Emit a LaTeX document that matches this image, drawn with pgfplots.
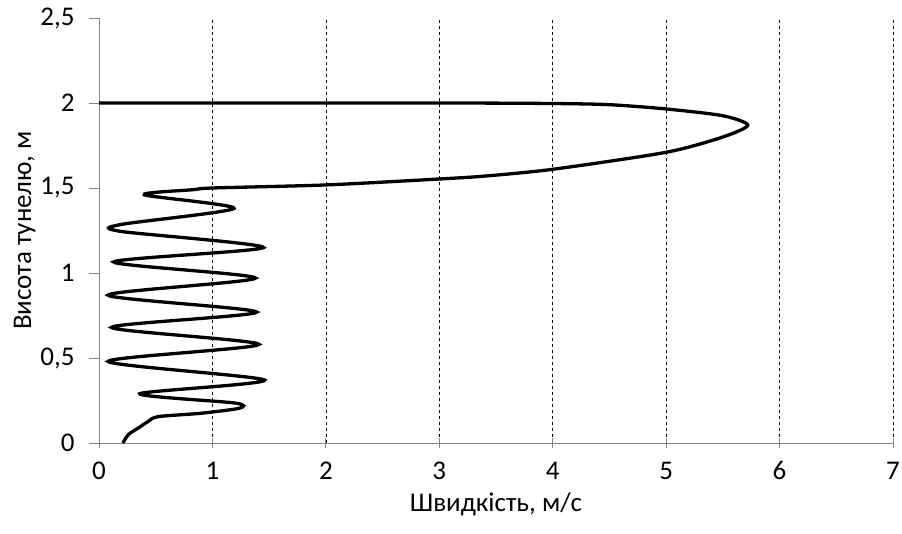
\documentclass[border=0pt]{standalone}
\usepackage{pgfplots}
\pgfplotsset{compat=1.18}
\usepackage{fontspec}
\setmainfont{Carlito}
\definecolor{axgray}{HTML}{868686}
\begin{document}
\begin{tikzpicture}
\begin{axis}[
  scale only axis,
  width=794pt, height=425pt,
  at={(0,0)}, anchor=south west,
  xmin=0, xmax=7, ymin=0, ymax=2.5,
  xtick={0,1,...,7},
  xticklabels={{0},{1},{2},{3},{4},{5},{6},{7}},
  ytick={0,0.5,1,1.5,2,2.5},
  yticklabels={{0},{0,5},{1},{1,5},{2},{2,5}},
  axis x line*=bottom, axis y line*=left,
  axis line style={axgray, line width=0.8pt, -},
  x axis line style={-}, y axis line style={-},
  xmajorgrids, grid style={black, dashed, line width=0.6pt},
  x tick style={axgray, line width=0.8pt},
  y tick style={axgray, line width=0.8pt},
  xtick align=center, major tick length=10pt,
  ytick align=outside,
  tick label style={font=\fontsize{27}{27}\selectfont, text=black},
  xticklabel style={yshift=-10pt, text height=18pt, text depth=2pt},
  yticklabel style={xshift=-11pt},
  xlabel={Швидкість, м/с},
  ylabel={Висота тунелю, м},
  label style={font=\fontsize{27}{27}\selectfont, text=black},
  xlabel style={yshift=-4pt},
  ylabel style={yshift=-2pt},
  clip=false,
]
\addplot[black, line width=3.3pt, smooth, tension=0.45] coordinates {
(0.21,0.00)
(0.26,0.05)
(0.35,0.09)
(0.43,0.125)
(0.52,0.155)
(0.9,0.175)
(1.24,0.205)
(1.2,0.235)
(0.36,0.29)
(1.46,0.37)
(0.08,0.48)
(1.41,0.58)
(0.11,0.68)
(1.39,0.77)
(0.08,0.87)
(1.38,0.97)
(0.13,1.065)
(1.45,1.15)
(0.19,1.245)
(0.19,1.285)
(1.19,1.38)
(0.40,1.46)
(0.83,1.49)
(1.00,1.50)
(2.0,1.518)
(3.0,1.553)
(3.4,1.57)
(4.0,1.61)
(5.0,1.71)
(5.5,1.80)
(5.72,1.87)
(5.5,1.925)
(5.0,1.965)
(4.5,1.99)
(4.0,1.997)
(3.0,2.0)
(0.0,2.0)
};
\end{axis}
\pgfresetboundingbox
\path[use as bounding box] (-99pt,-90pt) rectangle (803pt,443pt);
\end{tikzpicture}
\end{document}
